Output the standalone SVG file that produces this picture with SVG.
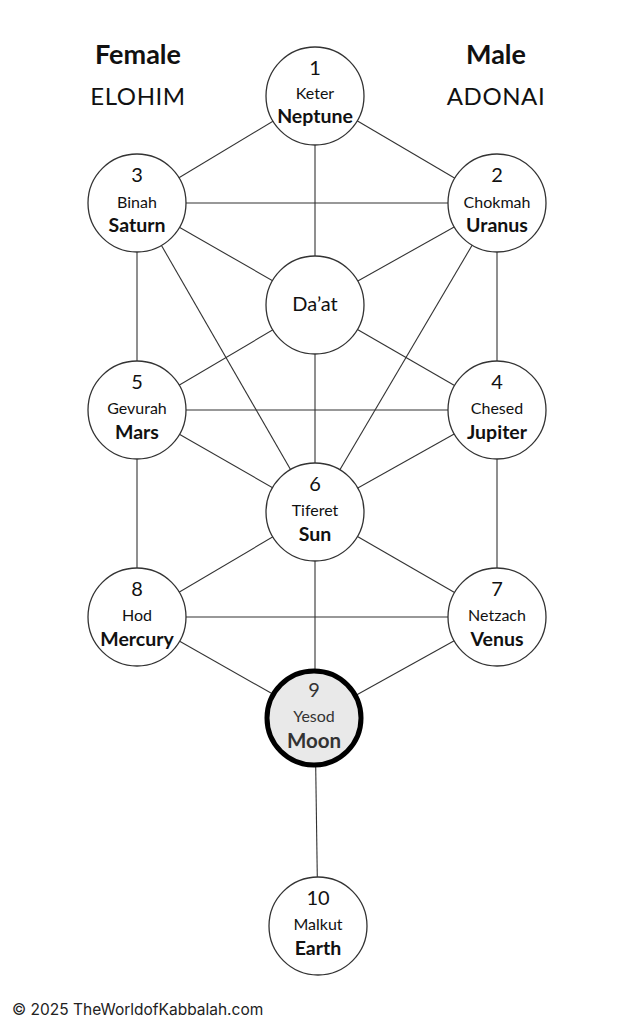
<svg xmlns="http://www.w3.org/2000/svg" width="633" height="1024" viewBox="0 0 633 1024">
<style>
.n{fill:#fff;stroke:#333;stroke-width:1.3}
.c line{stroke:#333;stroke-width:1.1}
text{font-family:Lato,"Open Sans",sans-serif;fill:#111;text-anchor:middle}
.num{font-size:20px}
.nm{font-size:16px}
.pl{font-size:19.5px;font-weight:bold}
.hd{font-size:27px;font-weight:bold}
.gd{font-size:24px;letter-spacing:0.6px}
</style>
<rect width="633" height="1024" fill="#fff"/>
<g id="labels">
<text class="hd" x="138" y="64">Female</text>
<text class="gd" x="138" y="105">ELOHIM</text>
<text class="hd" x="496" y="64">Male</text>
<text class="gd" x="496" y="105">ADONAI</text>
</g>
<g id="connectors" class="c">
<line x1="315" y1="96" x2="137" y2="203"/>
<line x1="315" y1="96" x2="497" y2="203"/>
<line x1="315" y1="96" x2="315" y2="305"/>
<line x1="137" y1="203" x2="497" y2="203"/>
<line x1="137" y1="203" x2="315" y2="305"/>
<line x1="497" y1="203" x2="315" y2="305"/>
<line x1="137" y1="203" x2="137" y2="410"/>
<line x1="497" y1="203" x2="497" y2="410"/>
<line x1="137" y1="203" x2="315" y2="512"/>
<line x1="497" y1="203" x2="315" y2="512"/>
<line x1="315" y1="305" x2="137" y2="410"/>
<line x1="315" y1="305" x2="497" y2="410"/>
<line x1="315" y1="305" x2="315" y2="512"/>
<line x1="137" y1="410" x2="497" y2="410"/>
<line x1="137" y1="410" x2="315" y2="512"/>
<line x1="497" y1="410" x2="315" y2="512"/>
<line x1="137" y1="410" x2="137" y2="617"/>
<line x1="497" y1="410" x2="497" y2="617"/>
<line x1="315" y1="512" x2="137" y2="617"/>
<line x1="315" y1="512" x2="497" y2="617"/>
<line x1="315" y1="512" x2="315" y2="718"/>
<line x1="137" y1="617" x2="497" y2="617"/>
<line x1="137" y1="617" x2="315" y2="718"/>
<line x1="497" y1="617" x2="315" y2="718"/>
<line x1="315" y1="718" x2="318" y2="926"/>
</g>
<g id="n1"><circle class="n" cx="315" cy="96" r="49"/><text class="num" x="315" y="75">1</text><text class="nm" x="315" y="99">Keter</text><text class="pl" x="315" y="123">Neptune</text></g>
<g id="n3"><circle class="n" cx="137" cy="203" r="49"/><text class="num" x="137" y="182">3</text><text class="nm" x="137" y="208">Binah</text><text class="pl" x="137" y="232">Saturn</text></g>
<g id="n2"><circle class="n" cx="497" cy="203" r="49"/><text class="num" x="497" y="182">2</text><text class="nm" x="497" y="208">Chokmah</text><text class="pl" x="497" y="232">Uranus</text></g>
<g id="ndaat"><circle class="n" cx="315" cy="305" r="49"/><text x="315" y="311" style="font-size:20px">Da’at</text></g>
<g id="n5"><circle class="n" cx="137" cy="410" r="49"/><text class="num" x="137" y="389">5</text><text class="nm" x="137" y="414">Gevurah</text><text class="pl" x="137" y="439">Mars</text></g>
<g id="n4"><circle class="n" cx="497" cy="410" r="49"/><text class="num" x="497" y="389">4</text><text class="nm" x="497" y="414">Chesed</text><text class="pl" x="497" y="439">Jupiter</text></g>
<g id="n6"><circle class="n" cx="315" cy="512" r="49"/><text class="num" x="315" y="491">6</text><text class="nm" x="315" y="516">Tiferet</text><text class="pl" x="315" y="541">Sun</text></g>
<g id="n8"><circle class="n" cx="137" cy="617" r="49"/><text class="num" x="137" y="596">8</text><text class="nm" x="137" y="621">Hod</text><text class="pl" x="137" y="646">Mercury</text></g>
<g id="n7"><circle class="n" cx="497" cy="617" r="49"/><text class="num" x="497" y="596">7</text><text class="nm" x="497" y="621">Netzach</text><text class="pl" x="497" y="646">Venus</text></g>
<g id="n9"><circle cx="314" cy="718" r="47" fill="#e9e9e9" stroke="#000" stroke-width="5"/><text class="num" x="314" y="697" style="fill:#333">9</text><text class="nm" x="314" y="722" style="fill:#333">Yesod</text><text class="pl" x="314" y="748" style="fill:#333;font-size:20.5px">Moon</text></g>
<g id="n10"><circle class="n" cx="318" cy="926" r="49"/><text class="num" x="318" y="905">10</text><text class="nm" x="318" y="930">Malkut</text><text class="pl" x="318" y="955">Earth</text></g>
<text x="12" y="1015" style="font-family:Inter,'Open Sans',sans-serif;font-size:15.5px;text-anchor:start;fill:#222">© 2025 TheWorldofKabbalah.com</text>
</svg>
